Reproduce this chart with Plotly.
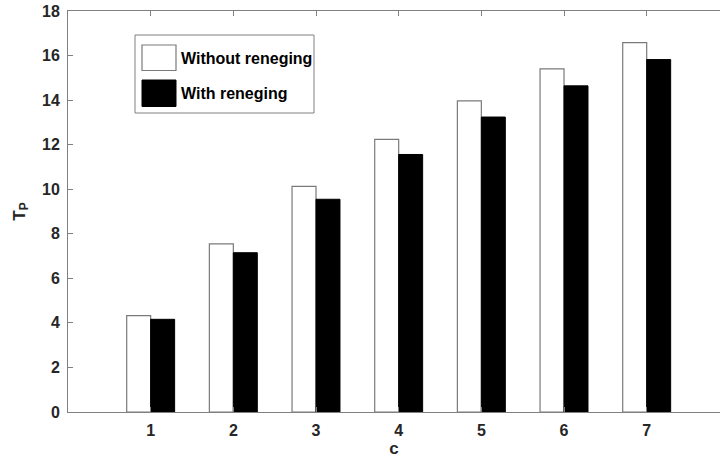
import plotly.graph_objects as go

categories = [1, 2, 3, 4, 5, 6, 7]
without_reneging = [4.33, 7.55, 10.13, 12.24, 13.97, 15.40, 16.58]
with_reneging = [4.16, 7.15, 9.55, 11.56, 13.24, 14.64, 15.82]
series_names = ["Without reneging", "With reneging"]
y_ticks = [0, 2, 4, 6, 8, 10, 12, 14, 16, 18]

W, H = 720, 465
ml, mt, mb, mr = 68, 11, 53, 0
pw, ph = W - ml - mr, H - mt - mb

FONT = "Liberation Sans, Arial, sans-serif"
TXT = "#262626"
AX = "#808080"

fig = go.Figure()
fig.add_trace(go.Bar(x=categories, y=without_reneging, name=series_names[0],
                     marker=dict(color="white", line=dict(color="#7a7a7a", width=1.2)),
                     showlegend=False))
fig.add_trace(go.Bar(x=categories, y=with_reneging, name=series_names[1],
                     marker=dict(color="black", line=dict(color="black", width=1)),
                     showlegend=False))

def px(x):
    return (x - ml) / pw

def py(y):
    return 1 - (y - mt) / ph

shapes = []
# legend box
shapes.append(dict(type="rect", xref="paper", yref="paper",
                   x0=px(135), x1=px(314), y0=py(113), y1=py(35),
                   line=dict(color=AX, width=1), fillcolor="white", layer="above"))
shapes.append(dict(type="rect", xref="paper", yref="paper",
                   x0=px(142), x1=px(176), y0=py(70.5), y1=py(45),
                   line=dict(color="#7a7a7a", width=1.2), fillcolor="white", layer="above"))
shapes.append(dict(type="rect", xref="paper", yref="paper",
                   x0=px(142), x1=px(176), y0=py(106.5), y1=py(80),
                   line=dict(color="black", width=1), fillcolor="black", layer="above"))

annotations = [
    dict(text="<b>" + series_names[0] + "</b>", xref="paper", yref="paper",
         x=px(179), y=py(59), xanchor="left", yanchor="middle", showarrow=False,
         font=dict(family=FONT, size=16, color="black")),
    dict(text="<b>" + series_names[1] + "</b>", xref="paper", yref="paper",
         x=px(179), y=py(93), xanchor="left", yanchor="middle", showarrow=False,
         font=dict(family=FONT, size=16, color="black")),
]

fig.update_layout(
    width=W, height=H,
    margin=dict(l=ml, r=mr, t=mt, b=mb, pad=0),
    paper_bgcolor="white", plot_bgcolor="white",
    barmode="group", bargap=0.42, bargroupgap=0,
    shapes=shapes, annotations=annotations,
    font=dict(family=FONT, color=TXT),
    showlegend=False,
)
fig.update_xaxes(
    range=[0, pw / 82.67], tickmode="array", tickvals=categories,
    ticktext=["<b>%d</b>" % c for c in categories],
    ticks="inside", ticklen=5, tickcolor=AX, showline=True, linecolor=AX, linewidth=1,
    mirror="ticks", showgrid=False, zeroline=False, automargin=False,
    tickfont=dict(family=FONT, size=16, color=TXT), ticklabelstandoff=4,
    title=dict(text="<b>c</b>", font=dict(family=FONT, size=17, color=TXT), standoff=2),
)
fig.update_yaxes(
    range=[0, 18], tickmode="array", tickvals=y_ticks,
    ticktext=["<b>%d</b>" % v for v in y_ticks],
    ticks="inside", ticklen=5, tickcolor=AX, showline=True, linecolor=AX, linewidth=1,
    mirror=False, showgrid=False, zeroline=False, automargin=False,
    tickfont=dict(family=FONT, size=16, color=TXT), ticklabelstandoff=4,
    title=dict(text="<b>T<sub>P</sub></b>", font=dict(family=FONT, size=17, color=TXT), standoff=12),
)

fig.write_html("out.html", config={"displayModeBar": False},
               post_script="document.body.style.margin='0';document.body.style.padding='0';")
